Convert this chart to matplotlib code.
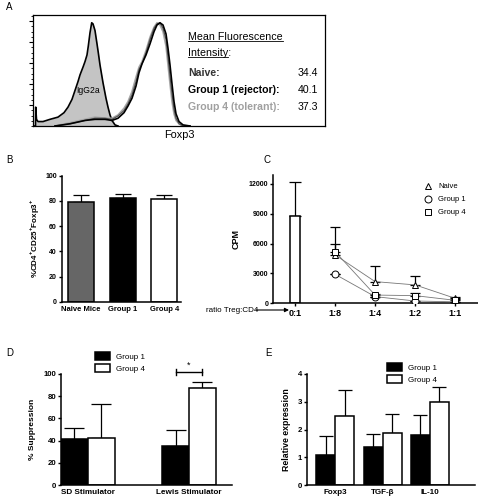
import matplotlib.pyplot as plt
import matplotlib.patches as mpatches
from matplotlib.lines import Line2D
import numpy as np

plt.rcParams['font.family'] = ['Liberation Sans', 'DejaVu Sans']
plt.rcParams['mathtext.fontset'] = 'custom'
plt.rcParams['mathtext.rm'] = 'Liberation Sans'
plt.rcParams['mathtext.bf'] = 'Liberation Sans:bold'

# ---- data ----
# A: histogram outlines (x = channel position, y = relative count)
igg_x = [0, 2.5, 2.7, 3.5, 5, 10, 17, 25, 31, 35, 39, 42, 45, 47, 48.7, 50, 52,
         54, 55.3, 57, 58.7, 60, 62, 64, 65.3, 67, 70, 73, 75, 77, 79, 82, 85]
igg_y = [0, 0, 0.17, 0.06, 0.04, 0.04, 0.06, 0.08, 0.12, 0.17, 0.24, 0.32, 0.40,
         0.46, 0.50, 0.53, 0.58, 0.64, 0.72, 0.84, 0.93, 0.92, 0.86, 0.74, 0.66,
         0.55, 0.39, 0.25, 0.17, 0.10, 0.05, 0.01, 0]
fox_x = [22, 37, 52, 62, 72, 79, 85, 91, 95, 99, 103, 106, 109, 113, 117, 121,
         124, 127, 130, 133, 135, 137, 139, 141, 143, 146, 150, 157]
fox_group1 = [0.0, 0.02, 0.05, 0.06, 0.06, 0.05, 0.07, 0.12, 0.18, 0.25, 0.36, 0.48,
              0.56, 0.64, 0.74, 0.85, 0.91, 0.93, 0.91, 0.83, 0.70, 0.55, 0.38,
              0.22, 0.11, 0.04, 0.01, 0.0]
fox_group4 = [0.0, 0.03, 0.06, 0.08, 0.07, 0.07, 0.10, 0.16, 0.22, 0.31, 0.44, 0.53,
              0.58, 0.68, 0.80, 0.89, 0.93, 0.91, 0.85, 0.72, 0.55, 0.38, 0.22,
              0.11, 0.05, 0.02, 0.0, 0.0]
fox_naive = [0.0, 0.02, 0.05, 0.07, 0.07, 0.06, 0.09, 0.14, 0.20, 0.28, 0.40, 0.51,
             0.56, 0.66, 0.78, 0.88, 0.92, 0.93, 0.88, 0.78, 0.62, 0.45, 0.29,
             0.15, 0.07, 0.02, 0.0, 0.0]
mfi_labels = ['Naive:', 'Group 1 (rejector):', 'Group 4 (tolerant):']
mfi_values = ['34.4', '40.1', '37.3']

# B
b_cats = ['Naive Mice', 'Group 1', 'Group 4']
b_vals = [79.5, 82, 81.5]
b_err = [5, 3.5, 3]

# C
c_ratios = ['0:1', '1:8', '1:4', '1:2', '1:1']
c_alone = 8800
c_alone_err = 3350
c_naive = [4870, 2180, 1850, 500]
c_naive_err = [2800, 1580, 900, 150]
c_g1 = [2920, 670, 230, 150]
c_g1_err = [0, 0, 0, 0]
c_g4 = [5200, 830, 770, 300]
c_g4_err = [800, 150, 300, 100]

# D
d_cats = ['SD Stimulator', 'Lewis Stimulator']
d_g1 = [41, 35.5]
d_g1_err = [10.5, 14]
d_g4 = [42, 87.5]
d_g4_err = [31, 5.5]

# E
e_cats = ['Foxp3', 'TGF-β', 'IL-10']
e_g1 = [1.09, 1.38, 1.8]
e_g1_err = [0.68, 0.45, 0.73]
e_g4 = [2.49, 1.89, 2.98]
e_g4_err = [0.94, 0.68, 0.56]

W, H = 478, 503
fig = plt.figure(figsize=(W / 100, H / 100), dpi=100)


def px_axes(x0, y0, x1, y1):
    # axes from pixel box (top-left origin)
    return fig.add_axes([x0 / W, 1 - y1 / H, (x1 - x0) / W, (y1 - y0) / H])


def style_prism(ax, ysize=5):
    for s in ['top', 'right']:
        ax.spines[s].set_visible(False)
    for s in ['left', 'bottom']:
        ax.spines[s].set_linewidth(1.1)
    ax.tick_params(axis='y', direction='out', length=2.5, width=1.0, pad=1,
                   labelsize=ysize)
    ax.tick_params(axis='x', length=0, pad=3)
    for t in ax.get_yticklabels():
        t.set_fontweight('bold')


def up_err(ax, x, y, e, cap=3.5):
    ax.errorbar(x, y, yerr=[np.zeros(len(e)), e], fmt='none', ecolor='k',
                elinewidth=0.9, capsize=cap, capthick=0.9, zorder=1)


for lab, (x, y) in zip('ABCDE', [(6, 7), (6, 160), (263, 160), (6, 353), (265, 353)]):
    fig.text(x / W, 1 - y / H, lab, fontsize=7, ha='left', va='center')

# ---------------- A ----------------
axA = px_axes(33, 15, 325, 126)
axA.fill_between(igg_x, igg_y, color='#c4c4c4', lw=0)
axA.plot(igg_x, igg_y, color='k', lw=1.2)
axA.plot(fox_x, fox_group4, color='#a8a8a8', lw=1.2)
axA.plot(fox_x, fox_naive, color='#555555', lw=0.9)
axA.plot(fox_x, fox_group1, color='k', lw=1.2)
axA.set_xlim(0, 292)
axA.set_ylim(0, 1)
axA.set_xticks([])
axA.set_yticks([k * 0.189 for k in range(1, 6)])
axA.set_yticks(np.arange(0, 1, 0.189 / 4), minor=True)
axA.set_yticklabels([])
axA.tick_params(axis='y', which='major', length=3, width=0.8, direction='out')
axA.tick_params(axis='y', which='minor', length=1.5, width=0.6, direction='out')
for s in axA.spines.values():
    s.set_linewidth(0.9)
axA.text(55, 0.32, 'IgG2a', fontsize=6.2, ha='center', va='center')
axA.set_xlabel('Foxp3', fontsize=7.8, labelpad=3)

t1 = axA.text(0.531, 0.80, 'Mean Fluorescence', fontsize=7.7, transform=axA.transAxes,
              va='center')
t2 = axA.text(0.531, 0.655, 'Intensity', fontsize=7.7, transform=axA.transAxes,
              va='center')
t2b = axA.text(0.531, 0.655, 'Intensity:', fontsize=7.7, transform=axA.transAxes,
               va='center')
t2.set_alpha(0)
mfi_colors = ['#333333', 'black', '#a0a0a0']
for i, (lab, val, col) in enumerate(zip(mfi_labels, mfi_values, mfi_colors)):
    yy = 0.48 - i * 0.155
    axA.text(0.531, yy, lab, fontsize=7.6, fontweight='bold', color=col,
             transform=axA.transAxes, va='center')
    axA.text(0.976, yy, val, fontsize=7.6, color='black',
             transform=axA.transAxes, va='center', ha='right')

fig.canvas.draw()
rend = fig.canvas.get_renderer()
inv = axA.transAxes.inverted()
for t in [t1, t2]:
    bb = t.get_window_extent(rend)
    (xa, ya), (xb, yb) = inv.transform([(bb.x0, bb.y0), (bb.x1, bb.y1)])
    axA.plot([xa, xb], [ya + 0.01, ya + 0.01], color='k', lw=0.6,
             transform=axA.transAxes)

# ---------------- B ----------------
axB = px_axes(61.7, 175.7, 181, 301.7)
xb_ = np.arange(len(b_cats))
axB.bar(xb_, b_vals, width=0.62, color=['#666666', 'black', 'white'],
        edgecolor='k', linewidth=1.1, zorder=2)
up_err(axB, xb_, b_vals, b_err, cap=5.5)
axB.set_xlim(-0.46, 2.4)
axB.set_ylim(0, 100)
axB.set_yticks([0, 20, 40, 60, 80, 100])
axB.set_xticks(xb_)
axB.set_xticklabels(b_cats, fontsize=5.5, fontweight='bold')
style_prism(axB)
axB.set_ylabel(r'%CD4$^{\mathbf{+}}$CD25$^{\mathbf{+}}$Foxp3$^{\mathbf{+}}$',
               fontsize=5.8, fontweight='bold', labelpad=3)

# ---------------- C ----------------
axC = px_axes(273, 175, 478, 303.3)
xc = np.arange(len(c_ratios))
axC.bar(xc[0], c_alone, width=0.27, color='white', edgecolor='k', linewidth=1.1,
        zorder=2)
up_err(axC, [xc[0]], [c_alone], [c_alone_err], cap=4)
xs = xc[1:]
for vals, errs, mk in [(c_naive, c_naive_err, '^'), (c_g1, c_g1_err, 'o'),
                       (c_g4, c_g4_err, 's')]:
    axC.plot(xs, vals, color='#777777', lw=0.6, zorder=3)
    up_err(axC, xs, vals, errs, cap=3.5)
    axC.plot(xs, vals, linestyle='none', marker=mk, ms=5, mfc='white', mec='k',
             mew=0.7, zorder=4)
axC.set_xlim(-0.55, 4.57)
axC.set_ylim(0, 12900)
axC.set_yticks([0, 3000, 6000, 9000, 12000])
axC.set_xticks(xc)
axC.set_xticklabels(c_ratios, fontsize=6.5, fontweight='bold')
style_prism(axC)
axC.tick_params(axis='x', length=2.5, width=1.0, pad=1.5)
axC.set_ylabel('CPM', fontsize=6.5, fontweight='bold', labelpad=6)
handles = [Line2D([], [], ls='none', marker=m, ms=5, mfc='white', mec='k', mew=0.7)
           for m in ['^', 'o', 's']]
axC.legend(handles, ['Naive', 'Group 1', 'Group 4'], loc='upper left',
           bbox_to_anchor=(423 / W, 1 - 183 / H), bbox_transform=fig.transFigure,
           frameon=False, fontsize=5.5, borderpad=0, borderaxespad=0,
           handlelength=1.4, handletextpad=0.6, labelspacing=0.75)
fig.text(206 / W, 1 - 310 / H, 'ratio Treg:CD4', fontsize=5.8, va='center',
         ha='left')
axC.annotate('', xy=(289 / W, 1 - 310 / H), xytext=(256 / W, 1 - 310 / H),
             xycoords='figure fraction', textcoords='figure fraction',
             arrowprops=dict(arrowstyle='-|>', color='k', lw=0.8, mutation_scale=6,
                             shrinkA=0, shrinkB=0))

# ---------------- D ----------------
axD = px_axes(61, 374, 232, 485)
xd = np.arange(len(d_cats))
bw = 0.265
axD.bar(xd - bw / 2, d_g1, width=bw, color='black', edgecolor='k', linewidth=1.1,
        zorder=2)
axD.bar(xd + bw / 2, d_g4, width=bw, color='white', edgecolor='k', linewidth=1.1,
        zorder=2)
up_err(axD, xd - bw / 2, d_g1, d_g1_err, cap=7)
up_err(axD, xd + bw / 2, d_g4, d_g4_err, cap=7)
axD.set_xlim(-0.264, 1.425)
axD.set_ylim(0, 100)
axD.set_yticks([0, 20, 40, 60, 80, 100])
axD.set_xticks(xd)
axD.set_xticklabels(d_cats, fontsize=5.9, fontweight='bold')
style_prism(axD, ysize=5.6)
axD.set_ylabel('% Suppression', fontsize=6, fontweight='bold', labelpad=5)
# significance bracket
xl, xr = xd[1] - bw / 2, xd[1] + bw / 2
axD.plot([xl, xr], [102, 102], color='k', lw=1.0, clip_on=False)
axD.plot([xl, xl], [99.5, 104.5], color='k', lw=1.0, clip_on=False)
axD.plot([xr, xr], [99.5, 104.5], color='k', lw=1.0, clip_on=False)
axD.text(xd[1], 108, '*', fontsize=6.5, ha='center', va='center')
leg_handles = [mpatches.Patch(facecolor='black', edgecolor='k', lw=1.1),
               mpatches.Patch(facecolor='white', edgecolor='k', lw=1.1)]
axD.legend(leg_handles, ['Group 1', 'Group 4'], loc='upper left',
           bbox_to_anchor=(95 / W, 1 - 352 / H), bbox_transform=fig.transFigure,
           frameon=False, fontsize=5.8, borderpad=0, borderaxespad=0,
           handlelength=1.9, handleheight=1.15, handletextpad=0.7, labelspacing=0.4)

# ---------------- E ----------------
axE = px_axes(306.7, 374, 475, 485)
xe = np.arange(len(e_cats))
bw = 0.4
axE.bar(xe - bw / 2, e_g1, width=bw, color='black', edgecolor='k', linewidth=1.1,
        zorder=2)
axE.bar(xe + bw / 2, e_g4, width=bw, color='white', edgecolor='k', linewidth=1.1,
        zorder=2)
up_err(axE, xe - bw / 2, e_g1, e_g1_err, cap=5)
up_err(axE, xe + bw / 2, e_g4, e_g4_err, cap=5)
axE.set_xlim(-0.6, 2.95)
axE.set_ylim(0, 4)
axE.set_yticks([0, 1, 2, 3, 4])
axE.set_xticks(xe)
axE.set_xticklabels(e_cats, fontsize=5.8, fontweight='bold')
style_prism(axE, ysize=5.6)
axE.set_ylabel('Relative expression', fontsize=6.3, fontweight='bold', labelpad=5)
axE.legend(leg_handles, ['Group 1', 'Group 4'], loc='upper left',
           bbox_to_anchor=(387 / W, 1 - 363 / H), bbox_transform=fig.transFigure,
           frameon=False, fontsize=5.8, borderpad=0, borderaxespad=0,
           handlelength=1.9, handleheight=1.15, handletextpad=0.7, labelspacing=0.4)

fig.savefig('out.png', dpi=100, facecolor='white')
